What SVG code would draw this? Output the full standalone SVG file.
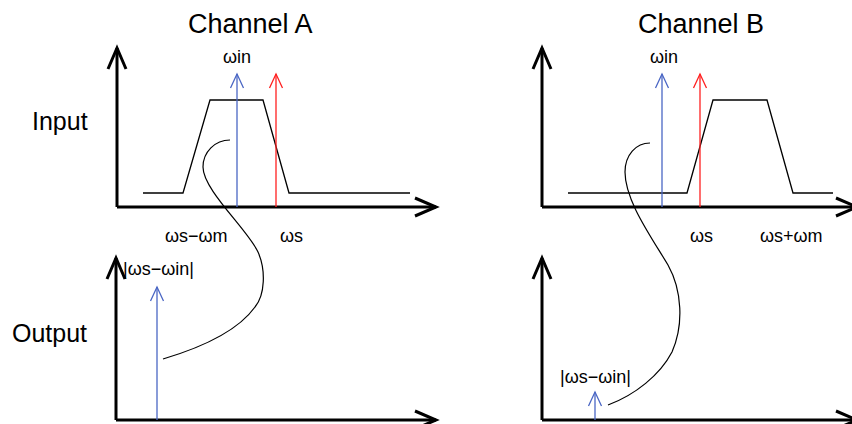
<svg xmlns="http://www.w3.org/2000/svg" width="852" height="424" viewBox="0 0 852 424">
<style>
text{font-family:"Liberation Sans",Arial,sans-serif;fill:#000}
.title{font-size:27px}
.side{font-size:25px}
.lbl{font-size:18px}
.axis{stroke:#000;stroke-width:3;fill:none;marker-end:url(#axHead)}
.band{stroke:#000;stroke-width:1.3;fill:none}
.blue{stroke:#4a66c4;stroke-width:1.3;fill:none;marker-end:url(#bHead)}
.red{stroke:#ff2020;stroke-width:1.3;fill:none;marker-end:url(#rHead)}
.curve{stroke:#000;stroke-width:1.2;fill:none}
</style>
<defs>
<marker id="axHead" markerUnits="userSpaceOnUse" viewBox="-24 -12 27 24" refX="0" refY="0" markerWidth="27" markerHeight="24" orient="auto" overflow="visible">
<path d="M-21,-9 L0,0 L-21,9" fill="none" stroke="#000" stroke-width="3"/>
</marker>
<marker id="bHead" markerUnits="userSpaceOnUse" viewBox="-16 -8 18 16" refX="0" refY="0" markerWidth="18" markerHeight="16" orient="auto" overflow="visible">
<path d="M-14,-6.5 L0,0 L-14,6.5" fill="none" stroke="#4a66c4" stroke-width="1.3"/>
</marker>
<marker id="rHead" markerUnits="userSpaceOnUse" viewBox="-16 -8 18 16" refX="0" refY="0" markerWidth="18" markerHeight="16" orient="auto" overflow="visible">
<path d="M-14,-6.5 L0,0 L-14,6.5" fill="none" stroke="#ff2020" stroke-width="1.3"/>
</marker>
</defs>
<rect width="852" height="424" fill="#fff"/>

<g id="row-labels">
<text class="side" x="32" y="130">Input</text>
<text class="side" x="12" y="342">Output</text>
</g>

<g id="channel-a-input">
<text class="title" x="188" y="33">Channel A</text>
<path class="axis" d="M117,207 L117,48"/>
<path class="axis" d="M117,207 L436,207"/>
<path class="band" d="M143,193 L183,193 L210,100 L263,100 L289,193 L410,193"/>
<path class="blue" d="M237,207 L237,74"/>
<path class="red" d="M276,207 L276,74"/>
<text class="lbl" x="223" y="63">ωin</text>
<text class="lbl" x="165" y="242">ωs−ωm</text>
<text class="lbl" x="280" y="242">ωs</text>
</g>

<g id="channel-a-output">
<path class="axis" d="M116,420 L116,258"/>
<path class="axis" d="M116,420 L436,420"/>
<path class="blue" d="M157,420 L157,287"/>
<text class="lbl" x="123" y="275">|ωs−ωin|</text>
</g>

<g id="channel-b-input">
<text class="title" x="638" y="33">Channel B</text>
<path class="axis" d="M542,207 L542,48"/>
<path class="axis" d="M542,207 L857,207"/>
<path class="band" d="M568,193 L687,193 L713,100 L767,100 L793,193 L833,193"/>
<path class="blue" d="M662,207 L662,74"/>
<path class="red" d="M700,207 L700,74"/>
<text class="lbl" x="650" y="63">ωin</text>
<text class="lbl" x="690" y="242">ωs</text>
<text class="lbl" x="760" y="242">ωs+ωm</text>
</g>

<g id="channel-b-output">
<path class="axis" d="M542,420 L542,258"/>
<path class="axis" d="M542,420 L857,420"/>
<path class="blue" d="M595,420 L595,392"/>
<text class="lbl" x="560" y="383">|ωs−ωin|</text>
</g>

<g id="connectors">
<path class="curve" d="M230,140 C215,140 203,152 203,167 C203,190 248,230 258,252 C266,270 265,295 255,307 C240,328 210,345 163,359"/>
<path class="curve" d="M650,143 C636,143 625,155 625,172 C625,200 650,235 668,265 C682,290 684,325 672,352 C660,375 635,395 608,405"/>
</g>
</svg>
